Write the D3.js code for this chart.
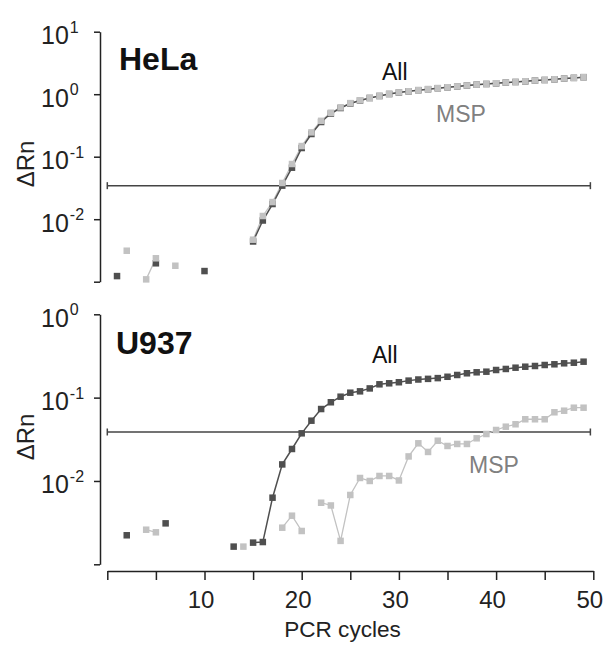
<!DOCTYPE html>
<html>
<head>
<meta charset="utf-8">
<script src="https://cdn.jsdelivr.net/npm/d3@7/dist/d3.min.js"></script>
<style>
  html, body { margin: 0; padding: 0; background: #fff; }
  svg { display: block; font-family: "Liberation Sans", Arial, Helvetica, sans-serif; }
</style>
</head>
<body>
<svg id="chart" width="605" height="647"></svg>
<script>
// PCR cycle numbers for every reading
const cycles = [1,2,3,4,5,6,7,8,9,10,11,12,13,14,15,16,17,18,19,20,21,22,23,24,25,
                26,27,28,29,30,31,32,33,34,35,36,37,38,39,40,41,42,43,44,45,46,47,48,49];

// HeLa — ΔRn per cycle (null = below plotted range)
const helaAll = [0.00123,null,null,null,0.00197,null,null,null,null,0.00148,null,null,null,null,
  0.0044,0.00953,0.0175,0.0344,0.0667,0.1377,0.2307,0.359,0.491,0.601,0.71,0.793,0.869,0.936,1.007,
  1.064,1.112,1.159,1.202,1.247,1.289,1.333,1.377,1.419,1.456,1.493,1.534,1.567,1.607,1.65,1.687,
  1.73,1.778,1.823,1.871];
const helaMSP = [null,0.00313,null,0.00109,0.00237,null,0.0018,null,null,null,null,null,null,null,
  0.0047,0.01125,0.0188,0.038,0.0764,0.148,0.245,0.375,0.505,0.615,0.72,0.80,0.875,0.94,1.01,
  1.07,1.115,1.162,1.205,1.25,1.292,1.336,1.38,1.422,1.46,1.497,1.538,1.571,1.611,1.654,1.69,
  1.734,1.782,1.827,1.875];

// U937 — ΔRn per cycle
const u937All = [null,0.00223,null,null,null,0.0031,null,null,null,null,null,null,0.00163,null,
  0.00182,0.00185,0.0063,0.0158,0.0242,0.0373,0.0529,0.073,0.088,0.1026,0.1146,0.119,0.129,0.1445,
  0.1486,0.153,0.160,0.165,0.168,0.1715,0.178,0.187,0.196,0.2014,0.2048,0.2146,0.2208,0.2287,0.235,
  0.2397,0.2464,0.2512,0.2582,0.2625,0.27];
const u937MSP = [null,null,null,0.0026,0.00242,null,null,null,null,null,null,null,null,0.00163,
  null,null,null,0.00275,0.00383,0.00251,null,0.00548,0.00508,0.00191,0.00679,0.01086,0.0100,
  0.01148,0.01148,0.01014,0.0197,0.0283,0.0223,0.0304,0.0263,0.0278,0.0278,0.0325,0.0366,0.0409,
  0.0448,0.0479,0.055,0.055,0.055,0.0667,0.0697,0.0757,0.0757];

// Detection thresholds and their cycle span
const thresholds = { HeLa: 0.0344, U937: 0.0387 };
const thresholdSpan = [0, 49.7];

// Axis ticks
const xTicks = [0,5,10,15,20,25,30,35,40,45,50];
const xTickLabels = [10,20,30,40,50];
const topYTicks = [1e-3, 1e-2, 1e-1, 1, 10];
const topYExponents = ["-2","-1","0","1"];
const botYTicks = [1e-3, 1e-2, 1e-1, 1];
const botYExponents = ["-2","-1","0"];

const svg = d3.select("#chart");
const INK = "#222";
const DARK = "#4f4f4f";
const LIGHT = "#c2c2c2";

const x = d3.scaleLinear().domain([0, 50]).range([107.3, 593.3]);

const panels = [
  { name: "HeLa", all: helaAll, msp: helaMSP, thr: thresholds.HeLa,
    y: d3.scaleLog().domain([1e-3, 10]).range([281.7, 31.7]),
    ticks: topYTicks, exps: topYExponents,
    title: [119, 69.5], allLbl: [382, 80], mspLbl: [436, 122], yLblY: 164 },
  { name: "U937", all: u937All, msp: u937MSP, thr: thresholds.U937,
    y: d3.scaleLog().domain([1e-3, 1]).range([564.3, 314.3]),
    ticks: botYTicks, exps: botYExponents,
    title: [116, 353.5], allLbl: [372, 363], mspLbl: [469, 473], yLblY: 437 }
];

function seriesPoints(vals) {
  return cycles.map((c, i) => ({ c, v: vals[i] }));
}

panels.forEach(p => {
  const g = svg.append("g");
  const y = p.y;

  // y axis: bracket-style spine with left-pointing ticks
  const yAxis = d3.axisLeft(y).tickValues(p.ticks).tickSize(6).tickSizeOuter(0).tickFormat("");
  const ya = g.append("g").attr("transform", `translate(100,0)`).call(yAxis);
  ya.selectAll("path, line").attr("stroke", INK).attr("stroke-width", 1.5);

  // decade labels as 10 with superscript exponent
  const labelled = p.ticks.slice(1);
  labelled.forEach((t, i) => {
    const txt = g.append("text")
      .attr("x", 41).attr("y", y(t) + 12.5)
      .attr("font-size", 25).attr("fill", INK);
    txt.append("tspan").text("10");
    txt.append("tspan").attr("dx", 1).attr("dy", -11.5).attr("font-size", 16).text(p.exps[i]);
  });

  // y axis title
  g.append("text")
    .attr("transform", `translate(34,${p.yLblY}) rotate(-90)`)
    .attr("text-anchor", "middle").attr("font-size", 24).attr("fill", INK)
    .text("ΔRn");

  // threshold line with end caps
  const ty = y(p.thr);
  g.append("line")
    .attr("x1", x(thresholdSpan[0])).attr("x2", x(thresholdSpan[1]))
    .attr("y1", ty).attr("y2", ty)
    .attr("stroke", "#444").attr("stroke-width", 1.5);
  thresholdSpan.forEach(s => {
    g.append("line")
      .attr("x1", x(s)).attr("x2", x(s))
      .attr("y1", ty - 3.5).attr("y2", ty + 3.5)
      .attr("stroke", "#444").attr("stroke-width", 1.5);
  });

  const line = d3.line()
    .defined(d => d.v != null)
    .x(d => x(d.c)).y(d => y(d.v));

  const allPts = seriesPoints(p.all);
  const mspPts = seriesPoints(p.msp);

  g.append("path").datum(mspPts).attr("d", line)
    .attr("fill", "none").attr("stroke", LIGHT).attr("stroke-width", 1.3);
  g.append("path").datum(allPts).attr("d", line)
    .attr("fill", "none").attr("stroke", DARK).attr("stroke-width", 1.5);

  const sz = 6.5;
  g.append("g").selectAll("rect").data(allPts.filter(d => d.v != null)).join("rect")
    .attr("x", d => x(d.c) - sz / 2).attr("y", d => y(d.v) - sz / 2)
    .attr("width", sz).attr("height", sz).attr("fill", DARK);
  g.append("g").selectAll("rect").data(mspPts.filter(d => d.v != null)).join("rect")
    .attr("x", d => x(d.c) - sz / 2).attr("y", d => y(d.v) - sz / 2)
    .attr("width", sz).attr("height", sz).attr("fill", LIGHT);

  // panel title and series labels
  g.append("text").attr("x", p.title[0]).attr("y", p.title[1])
    .attr("font-size", 32).attr("font-weight", "bold").attr("fill", "#111").text(p.name);
  g.append("text").attr("x", p.allLbl[0]).attr("y", p.allLbl[1])
    .attr("font-size", 23).attr("fill", "#111").text("All");
  g.append("text").attr("x", p.mspLbl[0]).attr("y", p.mspLbl[1])
    .attr("font-size", 23).attr("fill", "#808080").text("MSP");
});

// shared x axis
const xAxis = d3.axisBottom(x).tickValues(xTicks).tickSize(9).tickSizeOuter(0).tickPadding(11)
  .tickFormat(d => xTickLabels.includes(d) ? d : "");
const xa = svg.append("g").attr("transform", "translate(0,571)").call(xAxis);
xa.attr("font-family", null).attr("font-size", 24);
xa.selectAll("path, line").attr("stroke", INK).attr("stroke-width", 1.5);
xa.selectAll("text").attr("fill", INK).attr("dx", -4);

svg.append("text")
  .attr("x", x(24.2)).attr("y", 637)
  .attr("text-anchor", "middle").attr("font-size", 22.6).attr("fill", INK)
  .text("PCR cycles");
</script>
</body>
</html>
